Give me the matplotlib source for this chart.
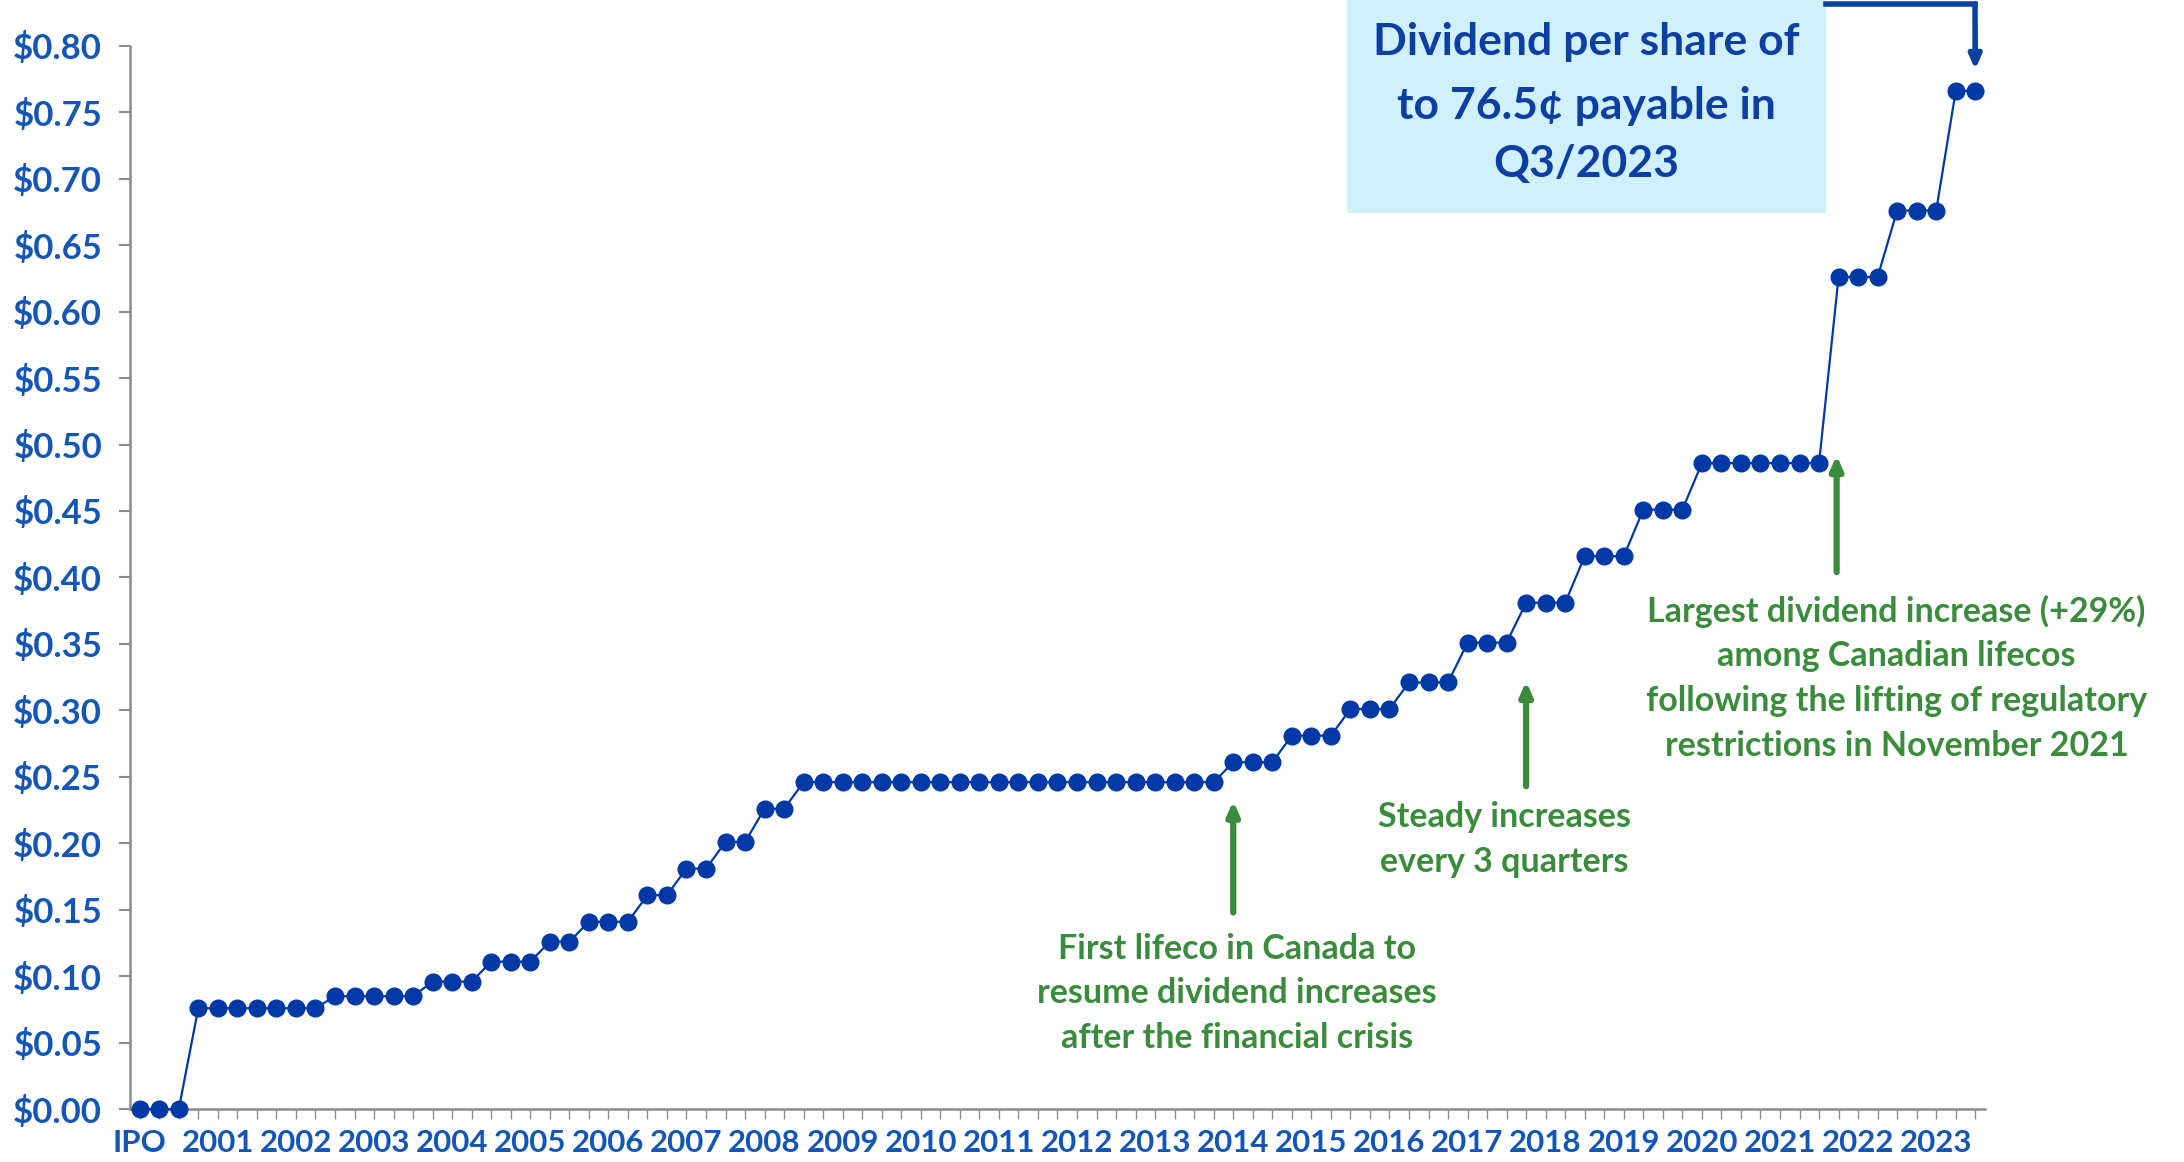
import matplotlib.pyplot as plt

# Квартальні дивіденди на акцію (по точці на квартал)
dividends = [
    0.0, 0.0, 0.0,
    0.076, 0.076, 0.076, 0.076, 0.076, 0.076, 0.076,
    0.085, 0.085, 0.085, 0.085, 0.085,
    0.096, 0.096, 0.096,
    0.111, 0.111, 0.111,
    0.126, 0.126,
    0.141, 0.141, 0.141,
    0.161, 0.161,
    0.181, 0.181,
    0.201, 0.201,
    0.226, 0.226,
    0.246, 0.246, 0.246, 0.246, 0.246, 0.246, 0.246, 0.246, 0.246, 0.246, 0.246,
    0.246, 0.246, 0.246, 0.246, 0.246, 0.246, 0.246, 0.246, 0.246, 0.246, 0.246,
    0.261, 0.261, 0.261,
    0.281, 0.281, 0.281,
    0.301, 0.301, 0.301,
    0.321, 0.321, 0.321,
    0.351, 0.351, 0.351,
    0.381, 0.381, 0.381,
    0.416, 0.416, 0.416,
    0.451, 0.451, 0.451,
    0.486, 0.486, 0.486, 0.486, 0.486, 0.486, 0.486,
    0.626, 0.626, 0.626,
    0.676, 0.676, 0.676,
    0.766, 0.766,
]
year_labels = ['IPO', '2001', '2002', '2003', '2004', '2005', '2006', '2007',
               '2008', '2009', '2010', '2011', '2012', '2013', '2014', '2015',
               '2016', '2017', '2018', '2019', '2020', '2021', '2022', '2023']
y_ticks = [0.0, 0.05, 0.10, 0.15, 0.20, 0.25, 0.30, 0.35, 0.40,
           0.45, 0.50, 0.55, 0.60, 0.65, 0.70, 0.75, 0.80]

blue = '#0039A6'
label_blue = '#1456B8'
green = '#3A8C3C'
font = 'Lato'

fig = plt.figure(figsize=(21.84, 11.62), dpi=100)
ax = fig.add_axes([0.0595, 0.0454, 0.8494, 0.9153])

x = list(range(len(dividends)))
ax.plot(x, dividends, color=blue, linewidth=1.6, marker='o', markersize=12,
        markerfacecolor=blue, markeredgecolor=blue, clip_on=False, zorder=3)

ax.set_xlim(-0.5, len(dividends) - 0.5)
ax.set_ylim(0, 0.80)

# Підписи осі X: кожен 4-й квартал
xlabels = [''] * len(dividends)
for i, lab in enumerate(year_labels):
    xlabels[i * 4] = lab
ax.set_xticks(x)
ax.set_xticklabels(xlabels, fontsize=22.5, fontweight='bold', color=label_blue,
                   family=font)
ax.set_yticks(y_ticks)
ax.set_yticklabels(['${:.2f}'.format(v) for v in y_ticks], fontsize=25,
                   fontweight='bold', color=label_blue, family=font)

for side in ['top', 'right']:
    ax.spines[side].set_visible(False)
for side in ['left', 'bottom']:
    ax.spines[side].set_color('#8C8C8C')
    ax.spines[side].set_linewidth(1.8)
ax.tick_params(axis='y', length=8, width=1.5, color='#8C8C8C', pad=12)
ax.tick_params(axis='x', length=7, width=1.0, color='#8C8C8C', pad=7)


def note(xc, ys, lines, size=24.5):
    for yy, line in zip(ys, lines):
        ax.text(xc, yy, line, ha='center', va='center', color=green,
                fontsize=size, fontweight='bold', family=font, clip_on=False)


# Зелені стрілки з поясненнями
arrow = dict(arrowstyle='-|>,head_length=0.8,head_width=0.35', color=green,
             linewidth=4.5, shrinkA=0, shrinkB=0)
ax.annotate('', xy=(56, 0.232), xytext=(56, 0.148), arrowprops=arrow)
note(56.2, [0.1209, 0.0873, 0.0536],
     ['First lifeco in Canada to', 'resume dividend increases',
      'after the financial crisis'])

ax.annotate('', xy=(71, 0.322), xytext=(71, 0.243), arrowprops=arrow)
note(69.9, [0.2197, 0.1861], ['Steady increases', 'every 3 quarters'])

ax.annotate('', xy=(86.9, 0.492), xytext=(86.9, 0.404), arrowprops=arrow)
note(89.96, [0.3742, 0.3406, 0.3070, 0.2733],
     ['Largest dividend increase (+29%)', 'among Canadian lifecos',
      'following the lifting of regulatory', 'restrictions in November 2021'])

# Блакитна рамка з текстом і синя стрілка
box = plt.Rectangle((0.6168, 0.8167), 0.2193, 0.19, transform=fig.transFigure,
                    facecolor='#CFF0FC', edgecolor='none', zorder=0)
fig.patches.append(box)
box_lines = ['Dividend per share of', 'to 76.5¢ payable in', 'Q3/2023']
for yy, line in zip([0.9639, 0.9088, 0.8589], box_lines):
    fig.text(0.7264, yy, line, ha='center', va='center', color='#0D3FA3',
             fontsize=32, fontweight='bold', family=font)

fig.add_artist(plt.Line2D([0.8361, 0.9043], [0.9966, 0.9966],
                          transform=fig.transFigure, color='#0B40A0',
                          linewidth=4))
ax.annotate('', xy=(94, 0.782), xycoords='data',
            xytext=(0.9043, 0.9966), textcoords='figure fraction',
            arrowprops=dict(arrowstyle='-|>,head_length=0.8,head_width=0.35',
                            color='#0B40A0', linewidth=4, shrinkA=0, shrinkB=0),
            annotation_clip=False)

plt.savefig('out.png', dpi=100)
